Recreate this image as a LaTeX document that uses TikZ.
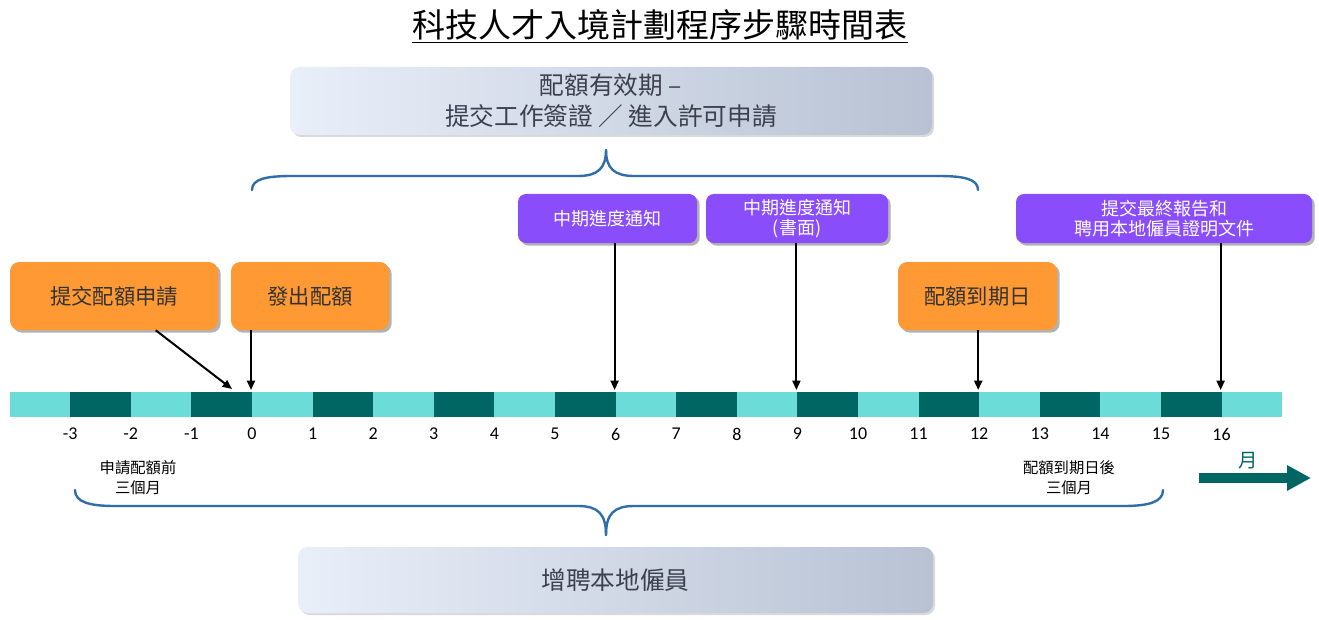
\documentclass[tikz,border=0pt]{standalone}
\usepackage{fontspec}
\setmainfont{Noto Sans CJK TC}
\newfontfamily\numfont{Carlito}
\usetikzlibrary{shadows,arrows.meta,calc}
\definecolor{orangebox}{HTML}{FF9933}
\definecolor{purplebox}{HTML}{8A4DFB}
\definecolor{tealL}{HTML}{6CDCD9}
\definecolor{tealD}{HTML}{006664}
\definecolor{braceblue}{HTML}{2F6EA8}
\definecolor{gradL}{HTML}{E9EFF9}
\definecolor{gradR}{HTML}{B8C2D3}
\definecolor{gtext}{HTML}{3C4150}
\definecolor{otext}{HTML}{333333}
\begin{document}
\begin{tikzpicture}[x=0.75pt,y=-0.75pt,
  shadowed/.style={drop shadow={shadow xshift=2pt,shadow yshift=-2pt,opacity=0.3,fill=black}},
  obox/.style={shadowed,fill=orangebox,rounded corners=7pt,inner sep=0pt,text=otext,align=center,
    font=\fontsize{16}{20}\selectfont},
  pbox/.style={shadowed,fill=purplebox,rounded corners=6pt,inner sep=0pt,text=white,align=center,
    font=\fontsize{13.5}{15}\selectfont},
  gbox/.style={left color=gradL,right color=gradR,rounded corners=7pt,inner sep=0pt,text=gtext,align=center,
    drop shadow={shadow xshift=1.5pt,shadow yshift=-1.5pt,opacity=0.15,fill=black}},
  arr/.style={draw=black,line width=1.5pt,-{Triangle[length=7pt,width=6pt]}},
  brace/.style={draw=braceblue,line width=1.8pt,line cap=round},
  smalllbl/.style={inner sep=0pt,align=center,font=\fontsize{11.5}{15}\selectfont},
  ticklbl/.style={inner sep=0pt,font=\numfont\fontsize{13.5}{15}\selectfont}
]
\useasboundingbox (0,0) rectangle (1319,620);

% title
\node[inner sep=0pt,font=\fontsize{24.75}{28}\selectfont] (title) at (660,25) {科技人才入境計劃程序步驟時間表};
\draw[line width=1pt] ($(title.south west)+(0,2)$) -- ($(title.south east)+(0,2)$);

% gradient boxes
\node[gbox,minimum width=642*0.75pt,minimum height=68*0.75pt,font=\fontsize{18.5}{23}\selectfont]
  (valid) at (611,101) {配額有效期 –\\提交工作簽證 ／ 進入許可申請};
\node[gbox,minimum width=635*0.75pt,minimum height=66*0.75pt,font=\fontsize{18.5}{22}\selectfont]
  (hire) at (615.5,580) {增聘本地僱員};

% braces
\draw[brace] (252,190) .. controls (252,179) and (266,176) .. (292,176) -- (578,176)
  .. controls (598,176) and (606,168) .. (606,150);
\draw[brace] (606,150) .. controls (606,168) and (614,176) .. (634,176) -- (938,176)
  .. controls (964,176) and (978,179) .. (978,190);
\draw[brace] (75,490) .. controls (75,502) and (89,506) .. (115,506) -- (578,506)
  .. controls (598,506) and (606,514) .. (606,535);
\draw[brace] (606,535) .. controls (606,514) and (614,506) .. (634,506) -- (1123,506)
  .. controls (1149,506) and (1163,502) .. (1163,490);

% timeline bar
\foreach \k in {-4,...,16}{
  \pgfmathsetmacro{\xa}{252+60.6*\k}
  \pgfmathsetmacro{\xb}{252+60.6*(\k+1)}
  \pgfmathtruncatemacro{\odd}{mod(\k+8,2)}
  \ifnum\odd=1
    \fill[tealD] (\xa,392) rectangle (\xb,417);
  \else
    \fill[tealL] (\xa,392) rectangle (\xb,417);
  \fi
}
\foreach \i in {-3,...,16}{
  \node[ticklbl] (n\i) at ({252+60.6*\i},434) {\i};
}
\foreach \i in {0,6,9,12,16}{
  \coordinate (t\i) at ({252+60.6*\i-1},390);
}
\coordinate (tdiag) at (232,389);

% orange boxes
\node[obox,minimum width=208*0.75pt,minimum height=68*0.75pt] (apply) at (114,296) {提交配額申請};
\node[obox,minimum width=158*0.75pt,minimum height=68*0.75pt] (issue) at (310,296) {發出配額};
\node[obox,minimum width=159*0.75pt,minimum height=68*0.75pt] (expire) at (977.5,296) {配額到期日};

% purple boxes
\node[pbox,minimum width=179*0.75pt,minimum height=49*0.75pt] (mid1) at (607.5,218.5) {中期進度通知};
\node[pbox,minimum width=182*0.75pt,minimum height=49*0.75pt] (mid2) at (797,218.5) {中期進度通知\\(書面)};
\node[pbox,minimum width=296*0.75pt,minimum height=49*0.75pt] (final) at (1164,218.5) {提交最終報告和\\聘用本地僱員證明文件};

% arrows
\draw[arr] ($(apply.south west)!0.70!(apply.south east)$) -- (tdiag);
\draw[arr] (issue.south -| t0) -- (t0);
\draw[arr] (mid1.south -| t6) -- (t6);
\draw[arr] (mid2.south -| t9) -- (t9);
\draw[arr] (expire.south -| t12) -- (t12);
\draw[arr] (final.south -| t16) -- (t16);

% small labels
\node[smalllbl] (before) at (138,478) {申請配額前\\三個月};
\node[smalllbl] (after) at (1069,478) {配額到期日後\\三個月};

% month arrow
\node[inner sep=0pt,text=tealD,font=\fontsize{14.5}{16}\selectfont] (month) at (1248,461) {月};
\coordinate (mA) at (1199,478);
\coordinate (mB) at (1311,478);
\draw[draw=tealD,line width=7pt,-{Triangle[length=18pt,width=18pt]}] (mA) -- (mB);
\end{tikzpicture}
\end{document}
